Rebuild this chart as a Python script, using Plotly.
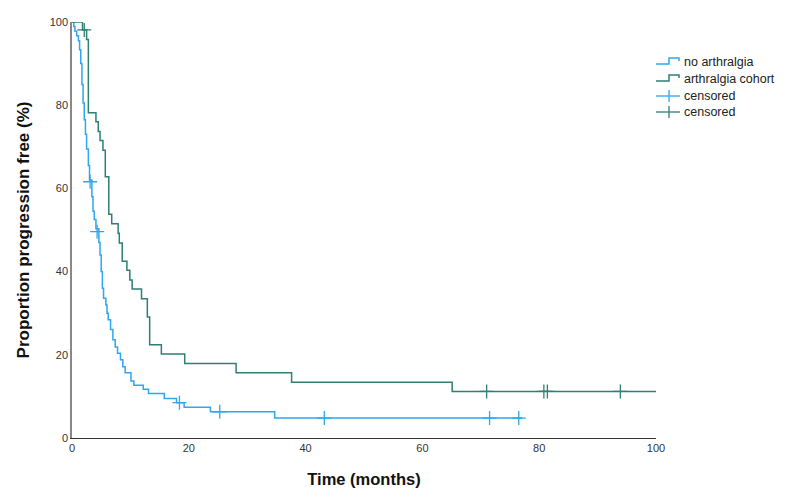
import plotly.graph_objects as go

# No arthralgia (blue) Kaplan-Meier steps
no_t = [0, 0.3, 0.5, 0.8, 1.1, 1.3, 1.5, 1.7, 1.9, 2.1, 2.3, 2.5, 2.8, 3.0, 3.4, 3.6, 3.8, 4.1,
        4.6, 4.8, 5.0, 5.2, 5.4, 5.8, 6.0, 6.2, 6.6, 7.0, 7.4, 7.8, 8.3, 8.7, 9.1, 10.1, 10.6,
        12.2, 13.1, 15.8, 17.9, 19.2, 23.7, 34.7, 77.1]
no_s = [100, 98.9, 97.8, 96.7, 95.5, 93.3, 90, 85, 80.5, 76.5, 73, 69.5, 65.5, 62, 58, 54.5, 52.5, 50.3,
        47, 44, 40, 36, 33.6, 32, 30, 28.4, 26.1, 23.6, 21.9, 20.4, 18.8, 17.1, 15.7, 13.7, 12.7,
        11.7, 10.7, 9.5, 8.5, 7.4, 6.3, 4.8, 4.8]
no_cens_t = [3.1, 4.3, 18.4, 25.3, 43.2, 71.5, 76.5]
no_cens_s = [61.6, 49.6, 8.5, 6.3, 4.8, 4.8, 4.8]

# Arthralgia cohort (green) Kaplan-Meier steps
ar_t = [0, 1.8, 2.5, 2.8, 4.1, 4.5, 4.8, 5.3, 5.7, 6.3, 6.8, 7.9, 8.1, 8.6, 9.4, 9.9, 10.3,
        11.9, 12.9, 13.3, 15.3, 19.3, 28.1, 37.6, 65.1, 100]
ar_s = [100, 98.1, 95.8, 78.2, 76.0, 73.7, 71.5, 69.2, 62.8, 53.8, 51.5, 49.2, 46.9, 42.5, 40.3, 38.0, 35.8,
        33.5, 29.1, 22.4, 20.2, 17.9, 15.7, 13.4, 11.2, 11.2]
ar_cens_t = [2.1, 71.0, 80.8, 81.4, 93.9]
ar_cens_s = [98.1, 11.2, 11.2, 11.2, 11.2]

x_ticks = [0, 20, 40, 60, 80, 100]
y_ticks = [0, 20, 40, 60, 80, 100]

legend_labels = ["no arthralgia", "arthralgia cohort", "censored", "censored"]

BLUE = "#2EA6F0"
GREEN = "#2F7F72"

# plot-area geometry (pixels) used only to place the hand-drawn legend
X0, X1, YB, YT = 72.0, 656.0, 438.0, 22.0
def px(x):
    return (x - X0) / (X1 - X0)
def py(y):
    return (YB - y) / (YB - YT)

fig = go.Figure()
fig.add_trace(go.Scatter(x=no_t, y=no_s, mode="lines", line=dict(color=BLUE, width=1.5, shape="hv"),
                         name=legend_labels[0], showlegend=False))
fig.add_trace(go.Scatter(x=ar_t, y=ar_s, mode="lines", line=dict(color=GREEN, width=1.5, shape="hv"),
                         name=legend_labels[1], showlegend=False))
fig.add_trace(go.Scatter(x=no_cens_t, y=no_cens_s, mode="markers", name=legend_labels[2], showlegend=False,
                         marker=dict(symbol="cross-thin", size=10, line=dict(color=BLUE, width=1.3))))
fig.add_trace(go.Scatter(x=ar_cens_t, y=ar_cens_s, mode="markers", name=legend_labels[3], showlegend=False,
                         marker=dict(symbol="cross-thin", size=10, line=dict(color=GREEN, width=1.3))))

# custom legend (step icons and crosses, like the original)
rows = [62, 79, 96, 112]
colors = [BLUE, GREEN, BLUE, GREEN]
shapes = []
annotations = []
for i, (r, c, lab) in enumerate(zip(rows, colors, legend_labels)):
    if i < 2:
        path = (f"M {px(656)},{py(r + 2)} L {px(669)},{py(r + 2)} L {px(669)},{py(r - 4)} "
                f"L {px(679)},{py(r - 4)} L {px(679)},{py(r - 1)}")
        shapes.append(dict(type="path", xref="paper", yref="paper", path=path,
                           line=dict(color=c, width=1.5)))
    else:
        shapes.append(dict(type="line", xref="paper", yref="paper", x0=px(656), x1=px(680),
                           y0=py(r), y1=py(r), line=dict(color=c, width=1.3)))
        shapes.append(dict(type="line", xref="paper", yref="paper", x0=px(669), x1=px(669),
                           y0=py(r - 6), y1=py(r + 6), line=dict(color=c, width=1.3)))
    annotations.append(dict(xref="paper", yref="paper", x=px(682), y=py(r), text=lab, showarrow=False,
                            xanchor="left", yanchor="middle", font=dict(size=12.5, color="#222")))

# page has an 8px body margin: compensate so the plot area lands at X0..X1, YT..YB
fig.update_layout(
    width=789, height=498,
    margin=dict(l=64, r=141, t=14, b=68),
    plot_bgcolor="white", paper_bgcolor="white",
    font=dict(family="Arial, Liberation Sans, sans-serif", color="#222"),
    showlegend=False,
    shapes=shapes, annotations=annotations,
    xaxis=dict(range=[0, 100], tickvals=x_ticks, showgrid=False, zeroline=False, automargin=False,
               showline=True, linecolor="#333", linewidth=1.2, ticks="",
               tickfont=dict(size=11, color="#333"),
               title=dict(text="<b>Time (months)</b>", font=dict(size=16.5, color="#111"), standoff=20)),
    yaxis=dict(range=[0, 100], tickvals=y_ticks, showgrid=False, zeroline=False, automargin=False,
               showline=True, linecolor="#888", linewidth=1.5, ticks="",
               tickfont=dict(size=11, color="#333"),
               title=dict(text="<b>Proportion progression free (%)</b>", font=dict(size=17, color="#111"), standoff=16)),
)

fig.write_html("out.html")
